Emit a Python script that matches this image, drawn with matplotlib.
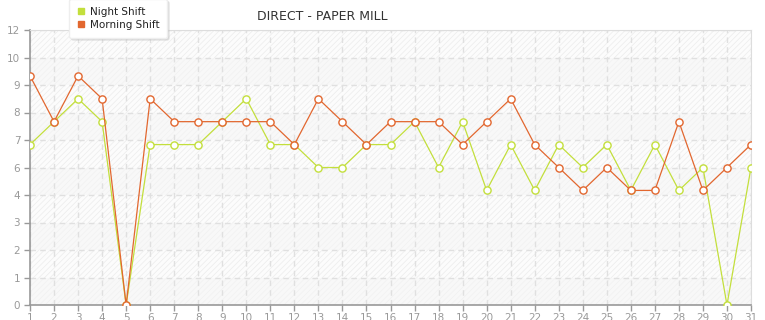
import numpy as np
import matplotlib
matplotlib.use("Agg")
import matplotlib.pyplot as plt
from matplotlib.lines import Line2D

days = list(range(1, 32))
night_shift = [7, 8, 9, 8, 0, 7, 7, 7, 8, 9, 7, 7, 6, 6, 7, 7, 8, 6, 8, 5,
               7, 5, 7, 6, 7, 5, 7, 5, 6, 0, 6]
morning_shift = [10, 8, 10, 9, 0, 9, 8, 8, 8, 8, 8, 7, 9, 8, 7, 8, 8, 8, 7, 8,
                 9, 7, 6, 5, 6, 5, 5, 8, 5, 6, 7]
y_ticks = np.linspace(0, 12, 11)
y_labels = [str(int(np.floor(v + 1e-9))) for v in y_ticks]

night_color = "#c3df3c"
morning_color = "#e2672f"

plt.rcParams["hatch.color"] = "#ededed"
plt.rcParams["hatch.linewidth"] = 0.5

fig = plt.figure(figsize=(7.65, 3.2), dpi=100)
ax = fig.add_axes([30 / 765, 15 / 320, 721 / 765, 275 / 320])

# striped / hatched background bands
for i in range(10):
    lo, hi = y_ticks[i], y_ticks[i + 1]
    if i % 2 == 1:
        ax.axhspan(lo, hi, facecolor="#fcfcfc", edgecolor="#ececec", hatch="//////", lw=0, zorder=0)
    else:
        ax.axhspan(lo, hi, facecolor="#f8f8f8", edgecolor="#f1f1f1", hatch="//////", lw=0, zorder=0)

ax.plot(days, night_shift, color=night_color, lw=0.9, marker="o", ms=5.2,
        mfc="white", mec=night_color, mew=1.0, zorder=3)
ax.plot(days, morning_shift, color=morning_color, lw=0.9, marker="o", ms=5.2,
        mfc="white", mec=morning_color, mew=1.0, zorder=4)

ax.set_xlim(1, 31)
ax.set_ylim(0, 12)
ax.set_xticks(days)
ax.set_xticklabels([str(d) for d in days])
ax.set_yticks(y_ticks)
ax.set_yticklabels(y_labels)
ax.grid(True, color="#e0e0e0", ls=(0, (4, 3)), lw=1.0, zorder=1)
ax.set_axisbelow(True)

for s in ["top", "right"]:
    ax.spines[s].set_color("#dddddd")
for s in ["left", "bottom"]:
    ax.spines[s].set_color("#999999")
    ax.spines[s].set_linewidth(1.2)
ax.tick_params(colors="#999999", labelcolor="#999999", labelsize=7.5, length=4, width=1)
ax.tick_params(axis="x", pad=2)
ax.tick_params(axis="y", pad=3)

fig.text(322 / 765, 1 - 17 / 320, "DIRECT - PAPER MILL", ha="center", va="center",
         fontsize=9, color="#333333")

handles = [
    Line2D([], [], color=night_color, marker="s", ls="none", ms=4.5),
    Line2D([], [], color=morning_color, marker="s", ls="none", ms=4.5),
]
leg = fig.legend(handles, ["Night Shift", "Morning Shift"], loc="upper left",
                 bbox_to_anchor=(64 / 765, 1 + 6 / 320), fontsize=7.5, frameon=True,
                 fancybox=True, shadow={"color": "#bbbbbb", "alpha": 0.35, "ox": 1.5, "oy": -1.5},
                 handlelength=0.7, handletextpad=0.5,
                 labelspacing=0.3, borderpad=0.75)
leg.get_frame().set_edgecolor("#eeeeee")
leg.get_frame().set_facecolor("white")
for t in leg.get_texts():
    t.set_color("#222222")

fig.savefig("out.png", dpi=100)
